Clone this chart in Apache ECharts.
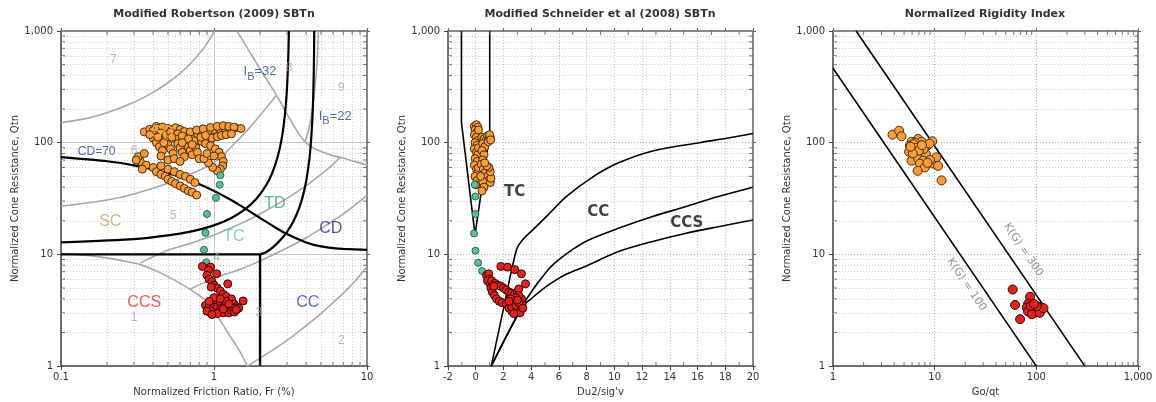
<!DOCTYPE html>
<html><head><meta charset="utf-8">
<script src="https://cdn.jsdelivr.net/npm/echarts@6/dist/echarts.min.js"></script>
<style>html,body{margin:0;padding:0;background:#fff}#c{width:1156px;height:402px}</style>
</head><body><div id="c"></div>
<script>
// ---------- tick values ----------
const yMinor = [2,3,4,5,6,7,8,9,20,30,40,50,60,70,80,90,200,300,400,500,600,700,800,900];
const frMinor = [0.2,0.3,0.4,0.5,0.6,0.7,0.8,0.9,2,3,4,5,6,7,8,9];
const goMinor = [2,3,4,5,6,7,8,9,20,30,40,50,60,70,80,90,200,300,400,500,600,700,800,900];
const duMinor = [-1,1,3,5,7,9,11,13,15,17,19];

// ---------- Panel 1: Robertson boundaries (Fr, Qtn) ----------
const zone7Line = [[0.1,151],[0.15,166],[0.2,185],[0.3,230],[0.4,282],[0.5,344],[0.6,418],[0.7,509],[0.85,693],[0.95,870],[1.01,1000]];
const zone89Lower = [[1.41,1000],[1.6,760],[1.86,537],[2.1,410],[2.39,311],[2.7,235],[3.0,181],[3.4,135],[3.85,105],[4.3,92],[4.83,85],[5.9,77],[7.0,73],[8.0,69],[10,63]];
const zone89Split = [[4.8,1000],[4.75,600],[4.6,350],[4.4,200],[4.15,130],[3.95,103]];
const zone65Line = [[0.1,27],[0.2,30.7],[0.3,34.8],[0.5,43.4],[0.7,52.3],[1.0,66],[1.3,92],[1.7,135],[2.1,190],[2.55,265]];
const zone54Line = [[0.33,8.4],[0.5,10.9],[0.7,12.5],[1.0,14.9],[1.5,18.9],[2.0,23],[3.0,31.7],[4.0,41.2],[5.0,52],[6.0,64],[6.7,74]];
const zone43Line = [[0.7,4.9],[1.0,6.1],[1.5,7.4],[2.0,8.75],[3.0,11.4],[4.0,14.1],[5.0,17],[6.0,20],[7.0,23.1],[8.0,26.4],[10,33.7]];
const zone1Line = [[0.1,10.2],[0.17,9.6],[0.25,8.8],[0.33,8.1],[0.44,6.9],[0.6,5.5],[0.8,4.3],[0.95,3.5],[1.13,2.4],[1.31,1.75],[1.5,1.3],[1.65,1.0]];
const zone2Line = [[1.65,1.0],[2.2,1.28],[3.0,1.7],[4.0,2.3],[5.0,2.95],[6.0,3.7],[7.0,4.5],[8.0,5.4],[9.0,6.5],[10,7.8]];
const cd70Line = [[0.1,74.2],[0.2,68.2],[0.3,62.7],[0.5,53.4],[0.7,45.8],[1.0,37.0],[1.25,31.5],[1.5,27.2],[2.0,21.2],[2.5,17.5],[3.0,15.2],[4.0,12.8],[5.0,11.8],[6.0,11.4],[7.0,11.2],[10,11.0]];
const ib32Line = [[0.1,12.8],[0.3,13.7],[0.5,14.8],[0.7,16.0],[1.0,18.2],[1.3,21.2],[1.6,25.4],[1.9,31.6],[2.2,41.9],[2.4,53.4],[2.6,73.8],[2.75,103],[2.85,141],[2.95,221],[3.0,310],[3.04,456],[3.07,705],[3.086,1000]];
const ib22Line = [[2.0,10.0],[2.2,10.5],[2.5,12.0],[2.8,14.1],[3.0,15.9],[3.3,19.7],[3.6,26.0],[3.8,32.9],[4.0,45],[4.2,71],[4.3,100],[4.4,169],[4.45,257],[4.49,443],[4.51,692],[4.521,1000]];
const q10Line = [[0.1,10],[2,10]];
const fr2Line = [[2,10],[2,1]];

const p1Orange = [
[0.35,125],[0.38,132],[0.42,140],[0.40,128],[0.43,135],[0.46,138],[0.50,134],[0.53,130],[0.56,136],[0.60,131],[0.64,126],[0.45,122],[0.49,118],[0.52,124],[0.58,120],
[0.66,112],[0.72,116],[0.78,120],[0.85,124],[0.92,128],[1.00,131],[1.08,134],[1.17,136],[1.27,137],[1.38,136],[1.50,134],
[0.70,125],[0.77,130],[0.85,133],[0.95,137],[1.05,140],[1.15,142],[1.25,140],[1.35,138],
[0.70,95],[0.76,99],[0.83,103],[0.90,107],[0.97,110],[1.05,113],[1.12,116],[1.20,118],[1.30,120],
[0.40,110],[0.42,100],[0.44,92],[0.46,85],[0.48,105],[0.50,96],[0.52,88],[0.54,80],[0.56,108],[0.58,98],[0.60,90],[0.62,82],[0.64,75],[0.66,100],[0.68,92],[0.70,85],[0.72,78],[0.74,104],[0.76,90],[0.78,82],[0.80,72],[0.45,76],[0.50,70],[0.55,72],[0.60,68],
[0.88,98],[0.95,94],[1.02,88],[1.08,82],[1.12,75],[1.15,68],[1.14,62],[1.10,58],[1.05,56],[0.98,60],[0.92,66],[0.86,72],[0.90,80],[1.00,76],
[0.33,68],[0.36,63],[0.34,58],[0.40,60],[0.42,55],[0.45,52],[0.48,50],[0.50,47],[0.53,45],[0.56,43],[0.60,41],[0.64,39],[0.68,37],[0.72,36],[0.77,34],[0.45,62],[0.50,58],[0.55,55],[0.60,52],[0.65,50],[0.70,47],[0.75,44],
[0.32,75],[0.35,80],[0.31,70],
[0.38,118],[0.43,112],[0.47,100],[0.53,112],[0.62,115],[0.68,108],[0.82,112],[0.88,116],[0.62,100],[0.72,96]
];
const p1Green = [[1.1,51],[1.09,42],[1.03,32],[0.9,23],[0.88,15.6],[0.86,11],[0.89,8.5],[0.92,7.6]];
const p1Red = [
[0.84,7.8],[0.95,7.7],[0.92,7.2],[1.04,6.7],[0.9,6.5],[0.93,6.0],[0.97,5.7],[1.0,5.3],[1.05,5.0],[0.96,5.1],[1.1,4.7],[1.15,4.4],[1.23,5.45],[1.55,3.83],[1.2,4.2],[1.3,4.0],[1.35,3.6],[1.4,3.4],[1.45,3.3],
[0.88,3.5],[0.92,3.3],[0.95,3.0],[0.98,3.2],[1.0,3.6],[1.02,3.9],[1.05,3.4],[1.08,3.1],[1.1,3.7],[1.12,3.3],[1.15,3.0],[1.18,3.5],[1.2,3.8],[1.22,3.2],[1.25,3.0],[1.28,3.4],[1.3,3.15],[1.33,3.3],[1.36,3.05],[1.4,3.2],[1.05,2.95],[1.0,4.1],[0.93,3.8],[1.1,4.0],[0.9,3.1],[1.15,3.25],[1.25,3.6],[0.97,2.9]
];
const p1ZoneLabels = [[0.46,124,'SD'],[0.21,19.6,'SC'],[1.35,14.4,'TC'],[2.5,28.5,'TD'],[5.8,17,'CD'],[4.1,3.7,'CC'],[0.35,3.7,'CCS']];
const p1NumLabels = [[0.30,2.7,'1'],[6.8,1.7,'2'],[1.96,3.0,'3'],[1.04,9.3,'4'],[0.54,22,'5'],[0.30,85,'6'],[0.22,550,'7'],[3.1,468,'8'],[6.8,310,'9']];
const p1LineLabels = [[0.171,82.5,'CD=70']];
const p1IbLabels = [[2.0,423,'32'],[6.2,169,'22']];

// ---------- Panel 2: Schneider (Du2/sig'v, Qtn) ----------
const sandLeft = [[-1.03,1000],[-1.03,152],[-0.05,15]];
const sandRight = [[1.01,1000],[1.01,120],[-0.05,15]];
const tcTop = [[1.12,1],[2.0,3.25],[2.94,11],[3.4,13.6],[4.1,16.5],[5.2,22.5],[6.55,33],[8.4,49],[10.3,66],[12.7,84],[16.1,100],[18.2,110],[20,121]];
const ccMid = [[1.12,1],[3.4,3.55],[3.9,4.4],[4.4,5.4],[5.35,7.6],[6.0,9.0],[7.0,11.1],[8.0,13.2],[10.3,17.1],[12.7,21.7],[15.1,26.7],[17.5,33],[20,40]];
const ccsLow = [[1.12,1],[3.4,3.45],[4.0,4.0],[4.7,4.75],[5.47,5.56],[6.5,6.6],[7.9,7.8],[10.3,10.6],[12.7,13],[15.1,15.4],[17.5,17.7],[20,20.3]];
const p2Orange = [
[-0.1,140],[0.05,145],[0.15,138],[-0.05,130],[0.1,125],[-0.1,118],[0.05,112],[0.15,105],[-0.05,100],[0.1,95],[-0.1,88],[0.05,82],[0.15,78],[-0.05,72],[0.1,68],[-0.1,63],[0.05,58],[0.15,54],[-0.05,50],[0.1,46],[0.0,42],[0.2,130],[0.2,90],[0.2,60],
[0.45,112],[0.6,108],[0.75,105],[0.5,98],[0.65,92],[0.45,85],[0.6,78],[0.5,70],[0.4,64],[0.55,58],[0.7,54],[0.85,50],[0.95,46],[1.05,44],[1.1,48],[1.05,55],[0.95,60],[0.8,62],[0.65,66],[0.5,45],[0.6,40],[0.45,37],[0.35,50],
[0.85,115],[0.95,108],[1.05,112],[0.9,102],[1.0,118],[1.08,106]
];
const p2Green = [[-0.07,42],[-0.03,33],[-0.02,23],[-0.12,15.4],[-0.02,10.8],[0.17,8.4],[0.46,7.1]];
const p2Red = [
[0.78,6.5],[0.94,6.7],[1.0,6.0],[0.85,5.8],[1.05,5.4],[1.1,5.0],[1.2,4.6],[1.35,4.3],[1.5,4.0],[1.7,3.8],[1.9,3.7],[2.2,3.6],[1.15,5.8],[1.4,5.5],[1.6,5.3],[1.8,5.2],[2.0,5.0],[2.2,4.8],[2.4,4.6],[2.6,4.5],[2.8,4.4],[3.0,4.6],[3.1,4.9],[1.81,7.8],[2.29,7.7],[2.82,7.3],[3.3,6.7],[3.59,5.45],[1.3,5.2],
[2.4,3.3],[2.6,3.1],[2.8,3.0],[3.0,3.1],[3.2,3.3],[3.35,3.6],[3.3,4.0],[3.1,4.3],[2.9,4.1],[2.7,3.8],[2.5,3.6],[2.6,3.4],[2.9,3.5],[3.1,3.7],[3.2,3.0],[2.75,2.95],[3.4,3.3],[3.0,3.9],[2.5,4.0],[2.4,3.8]
];
const p2Labels = [[2.8,36,'TC'],[8.84,24.1,'CC'],[15.23,19.0,'CCS']];

// ---------- Panel 3: Rigidity (Go/qt, Qtn) ----------
const kg100 = [[1,464],[100,1]];
const kg300 = [[1.687,1000],[300,1]];
const p3Orange = [[3.85,118],[4.47,128],[4.72,114],[5.93,102],[5.7,94],[5.6,83],[6.88,108],[7.44,102],[6.4,100],[6.2,97],[8.45,94],[9.48,103],[6.63,77],[7.3,77],[8.2,79],[5.93,69],[6.9,72],[7.7,69],[7.15,65],[8.0,60],[6.8,56],[9.66,65],[10.4,74],[10.8,62],[11.7,46],[7.8,88],[8.9,98],[6.5,90],[7.0,85],[9.0,70],[8.5,66],[6.1,80],[5.8,92],[7.5,95]];
const p3Red = [[58.6,4.85],[61.8,3.53],[69.2,2.63],[86.8,4.18],[83,3.62],[80.5,3.34],[83,3.08],[93.6,3.23],[97.5,3.01],[105,3.39],[113,3.34],[100,3.1],[90.5,2.91],[108,3.0],[117.6,3.3],[101,3.44],[88,3.45],[95,3.6]];
const p3Labels = [[74.5,11.0,'K(G) = 300'],[20.6,5.37,'K(G) = 100']];

const titles = ['Modified Robertson (2009) SBTn','Modified Schneider et al (2008) SBTn','Normalized Rigidity Index'];
const xNames = ['Normalized Friction Ratio, Fr (%)','Du2/sig\'v','Go/qt'];
const yName = 'Normalized Cone Resistance, Qtn';

// ---------- styling / building ----------
const F = '"DejaVu Sans", Verdana, sans-serif';
const A = '"Liberation Sans", Arial, sans-serif';
const fmt = v => { const r = +(+v).toPrecision(6); return r >= 1000 ? r.toLocaleString('en-US') : String(r); };
const GRAY = '#a8a8a8';
const ORANGE = ['#f59d3d','#4a2c0a'], RED = ['#e3241e','#300604'], GREEN = ['#5cbf93','#2c6a4f'];
const zoneColors = {SD:'#ffae52', SC:'#c9a468', TC:'#6cc6a2', TD:'#3f9c84', CD:'#28288a', CC:'#3b3bc8', CCS:'#e23434'};

const grids = [
  {left:61, top:31, width:306, height:338},
  {left:448, top:31, width:305, height:338},
  {left:833, top:31, width:305, height:338}
];
const xCfg = [
  {type:'log', logBase:10, min:0.1, max:10},
  {type:'value', min:-2, max:20, interval:2},
  {type:'log', logBase:10, min:1, max:1000}
];
const xSplit = [
  {show:true, lineStyle:{color:'#c4c4c4', width:1, type:'solid'}},
  {show:true, lineStyle:{color:'#c4c4c4', width:1, type:[1,2]}},
  {show:true, lineStyle:{color:'#b4b4b4', width:1, type:[1,2]}}
];
const ySplit = [
  {show:true, lineStyle:{color:'#c4c4c4', width:1, type:'solid'}},
  {show:true, lineStyle:{color:'#b4b4b4', width:1, type:[1,2]}},
  {show:true, lineStyle:{color:'#b4b4b4', width:1, type:[1,2]}}
];
const xMinorList = [frMinor, duMinor, goMinor];
const xMinV = [0.1,-2,1], xMaxV = [10,20,1000];

const xAxis = [], yAxis = [];
for (let i=0;i<3;i++){
  xAxis.push(Object.assign({gridIndex:i, position:'bottom', name:xNames[i], nameLocation:'middle', nameGap:18,
    nameTextStyle:{fontFamily:F, fontSize:10, color:'#333'},
    axisLine:{show:true, onZero:false, lineStyle:{color:'#444', width:1.5}},
    axisTick:{show:true, length:4, lineStyle:{color:'#444'}},
    axisLabel:{fontFamily:F, fontSize:10, color:'#333', margin:6, formatter:fmt},
    splitLine:xSplit[i]}, xCfg[i]));
  yAxis.push({gridIndex:i, type:'log', logBase:10, min:1, max:1000, position:'left', name:yName, nameLocation:'middle', nameGap:40,
    nameTextStyle:{fontFamily:F, fontSize:10, color:'#333'},
    axisLine:{show:true, onZero:false, lineStyle:{color:'#444', width:1.5}},
    axisTick:{show:true, length:4, lineStyle:{color:'#444'}},
    axisLabel:{fontFamily:F, fontSize:10, color:'#333', margin:8, formatter:fmt},
    splitLine:ySplit[i]});
}
for (let i=0;i<3;i++){
  xAxis.push(Object.assign({gridIndex:i, position:'top',
    axisLine:{show:true, onZero:false, lineStyle:{color:'#888', width:2}},
    axisTick:{show:true, length:3, lineStyle:{color:'#666'}}, axisLabel:{show:false}, splitLine:{show:false}}, xCfg[i]));
  yAxis.push({gridIndex:i, type:'log', logBase:10, min:1, max:1000, position:'right',
    axisLine:{show:true, onZero:false, lineStyle:{color:'#888', width:2}},
    axisTick:{show:true, length:3, lineStyle:{color:'#666'}}, axisLabel:{show:false}, splitLine:{show:false}});
}

const series = [];
function curve(i, data, color, width, smooth){
  series.push({type:'line', xAxisIndex:i, yAxisIndex:i, data, symbol:'none', showSymbol:false, smooth:smooth||false,
    lineStyle:{color, width}, silent:true, z:3, animation:false});
}
function pts(i, data, c, size){
  series.push({type:'scatter', xAxisIndex:i, yAxisIndex:i, data, symbol:'circle', symbolSize:size,
    itemStyle:{color:c[0], borderColor:c[1], borderWidth:1, opacity:1}, silent:true, z:5, animation:false});
}
function texts(i, items, labelStyle, rotate, zz){
  series.push({type:'scatter', xAxisIndex:i, yAxisIndex:i, clip:false,
    data: items.map(t=>({value:[t[0],t[1]], name:t[2]})), symbolSize:1, itemStyle:{color:'rgba(0,0,0,0)'},
    label:Object.assign({show:true, position:'inside', formatter:p=>p.name, rotate:rotate||0, textBorderWidth:0}, labelStyle),
    silent:true, z:zz||8, animation:false});
}
function ticks(i, data, off, size){
  series.push({type:'scatter', xAxisIndex:i, yAxisIndex:i, clip:false, data, symbol:'rect', symbolSize:size, symbolOffset:off,
    itemStyle:{color:'#555'}, silent:true, z:4, animation:false});
}
// minor grid lines + ticks
for (let i=0;i<3;i++){
  const ml = yMinor.map(v=>({yAxis:v}));
  if (i===0) frMinor.forEach(v=>ml.push({xAxis:v}));
  series.push({type:'line', xAxisIndex:i, yAxisIndex:i, data:[[xMinV[i],1]], symbol:'none', silent:true, z:1, animation:false,
    lineStyle:{width:0}, markLine:{z:1, zlevel:0, silent:true, symbol:['none','none'], animation:false, label:{show:false},
    lineStyle:{color:'#cdcdcd', width:1, type:[1,2]}, emphasis:{disabled:true}, data:ml}});
  ticks(i, yMinor.map(v=>[xMinV[i],v]), [2,0], [4,1]);
  ticks(i, yMinor.map(v=>[xMaxV[i],v]), [-2,0], [4,1]);
  ticks(i, xMinorList[i].map(v=>[v,1]), [0,-2], [1,4]);
  ticks(i, xMinorList[i].map(v=>[v,1000]), [0,2], [1,4]);
}
// panel 1
[zone7Line, zone89Lower, zone89Split, zone65Line, zone54Line, zone43Line, zone1Line, zone2Line].forEach(d=>curve(0,d,GRAY,1.6,0.3));
[cd70Line, ib32Line, ib22Line].forEach(d=>curve(0,d,'#000',2.2,0.2));
curve(0,q10Line,'#000',2.4); curve(0,fr2Line,'#000',2.4);
texts(0, p1NumLabels, {fontFamily:A, fontSize:12, color:'#a4a4a4'}, 0, 4);
pts(0, p1Orange, ORANGE, 8);
pts(0, p1Green, GREEN, 7);
pts(0, p1Red, RED, 8);
p1ZoneLabels.forEach(t=>texts(0,[t],{fontFamily:A, fontSize:16, color:zoneColors[t[2]]}));
texts(0, p1LineLabels, {fontFamily:A, fontSize:12, color:'#1f4a8a'});
series.push({type:'scatter', xAxisIndex:0, yAxisIndex:0, clip:false,
  data:p1IbLabels.map(t=>({value:[t[0],t[1]], name:t[2]})), symbolSize:1, itemStyle:{color:'rgba(0,0,0,0)'},
  label:{show:true, position:'inside', formatter:p=>'{a|I}{b|B}{a|='+p.name+'}', textBorderWidth:0,
    rich:{a:{fontFamily:A, fontSize:13, color:'#1f4a8a', lineHeight:15, verticalAlign:'top'},
          b:{fontFamily:A, fontSize:11, color:'#1f4a8a', lineHeight:15, verticalAlign:'top', padding:[6,0,0,0]}}},
  silent:true, z:8, animation:false});
// panel 2
[sandLeft, sandRight].forEach(d=>curve(1,d,'#000',1.6));
[tcTop, ccMid, ccsLow].forEach(d=>curve(1,d,'#000',1.6,0.3));
pts(1, p2Orange, ORANGE, 8);
pts(1, p2Green, GREEN, 7);
pts(1, p2Red, RED, 8);
texts(1, p2Labels, {fontFamily:F, fontSize:15, fontWeight:'bold', color:'#111'});
// panel 3
[kg100, kg300].forEach(d=>curve(2,d,'#000',1.6));
pts(2, p3Orange, ORANGE, 9);
pts(2, p3Red, RED, 9);
texts(2, p3Labels, {fontFamily:F, fontSize:11, color:'#7a7a7a'}, -56);

const titleX = [214, 600, 985];
const graphic = titles.map((t,i)=>({type:'text', x:titleX[i], y:14, silent:true,
  style:{text:t, fill:'#333', font:'bold 11px '+F, textAlign:'center', textVerticalAlign:'middle', align:'center', verticalAlign:'middle'}}));

const chart = echarts.init(document.getElementById('c'));
chart.setOption({animation:false, backgroundColor:'#fff', grid:grids, xAxis, yAxis, series, graphic});
</script>
</body></html>
